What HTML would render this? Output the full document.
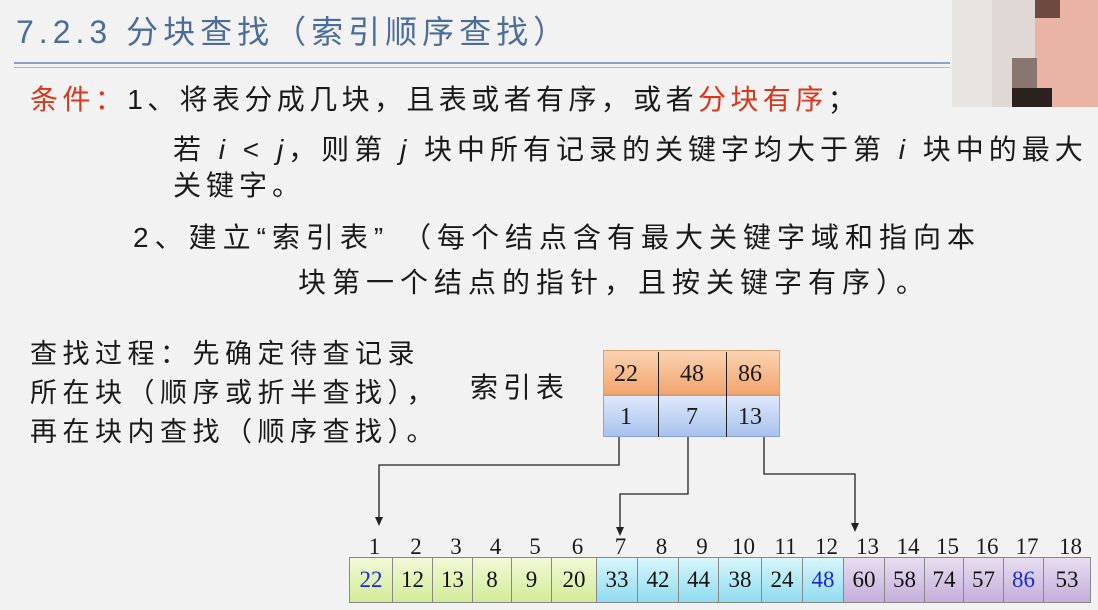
<!DOCTYPE html>
<html><head><meta charset="utf-8"><style>
body{margin:0;width:1098px;height:610px;background:#f2f2f2;position:relative;overflow:hidden;font-family:"Liberation Sans","Noto Sans CJK SC",sans-serif;color:#1a1a1a}
.t{position:absolute;white-space:nowrap;line-height:1}
.r{color:#d9361b}
.c{position:absolute;border:1px solid #888;box-sizing:border-box;font-family:"Liberation Serif",serif;font-size:23px;text-align:center;line-height:44px}
.n{position:absolute;font-family:"Liberation Serif",serif;font-size:23px;text-align:center;width:40px;line-height:1}
.px{position:absolute}
</style></head><body>
<div class="t" style="left:16px;top:16px;font-size:32px;letter-spacing:5px;color:#4d6d99">7.2.3 分块查找（索引顺序查找）</div>
<div class="px" style="left:14px;top:62px;width:936px;height:2px;background:#8aa4c8"></div>
<div class="px" style="left:14px;top:67px;width:936px;height:1px;background:#a9bcd8"></div>
<!-- pixelated face -->
<div class="px" style="left:952px;top:0;width:146px;height:107px;background:#e0d8d4"></div>
<div class="px" style="left:1035px;top:0;width:63px;height:107px;background:#e9b3a6"></div>
<div class="px" style="left:1012px;top:58px;width:25px;height:49px;background:#8a7670"></div>
<div class="px" style="left:1012px;top:88px;width:40px;height:19px;background:#2b2220"></div>
<div class="px" style="left:1035px;top:0;width:25px;height:18px;background:#6b4a40"></div>
<div class="px" style="left:952px;top:0;width:40px;height:107px;background:#e8e4e2"></div>

<div class="t" style="left:30px;top:86px;font-size:28px;letter-spacing:4.4px"><span class="r">条件</span><span class="r">：</span>1、将表分成几块，且表或者有序，或者<span class="r">分块有序</span>；</div>
<div class="t" style="left:173px;top:136px;font-size:28px;letter-spacing:5px">若 <i>i</i> &lt; <i>j</i>，则第 <i>j</i> 块中所有记录的关键字均大于第 <i>i</i> 块中的最大</div>
<div class="t" style="left:173px;top:172px;font-size:28px;letter-spacing:5px">关键字。</div>
<div class="t" style="left:133px;top:224px;font-size:28px;letter-spacing:6px">2、建立“索引表” （每个结点含有最大关键字域和指向本</div>
<div class="t" style="left:298px;top:269px;font-size:28px;letter-spacing:6px">块第一个结点的指针，且按关键字有序）。</div>
<div class="t" style="left:30px;top:341px;font-size:27px;letter-spacing:5.5px">查找过程：先确定待查记录</div>
<div class="t" style="left:30px;top:380px;font-size:27px;letter-spacing:5.5px">所在块（顺序或折半查找），</div>
<div class="t" style="left:30px;top:419px;font-size:27px;letter-spacing:5.5px">再在块内查找（顺序查找）。</div>
<div class="t" style="left:470px;top:374px;font-size:28px;letter-spacing:5px">索引表</div>

<div class="px" style="left:603px;top:350px;width:177px;height:45px;background:linear-gradient(#fbd3b3,#f2a56e);border:1px solid #e0a070;box-sizing:border-box"></div>
<div class="px" style="left:603px;top:395px;width:177px;height:42px;background:linear-gradient(#dfe8fb,#a8c2ee);border:1px solid #8aa6d8;box-sizing:border-box"></div>
<div class="px" style="left:658px;top:352px;width:1px;height:85px;background:#222"></div>
<div class="px" style="left:726px;top:352px;width:1px;height:85px;background:#222"></div>
<div class="n" style="left:606px;top:362px;font-size:24px">22</div>
<div class="n" style="left:672px;top:362px;font-size:24px">48</div>
<div class="n" style="left:730px;top:362px;font-size:24px">86</div>
<div class="n" style="left:606px;top:405px;font-size:24px">1</div>
<div class="n" style="left:672px;top:405px;font-size:24px">7</div>
<div class="n" style="left:730px;top:405px;font-size:24px">13</div>

<svg class="px" style="left:0;top:0" width="1098" height="610">
<g fill="none" stroke="#222" stroke-width="1.3">
<polyline points="619,437 619,465 379,465 379,518"/>
<polyline points="688,437 688,494 620,494 620,528"/>
<polyline points="764,437 764,474 855,474 855,524"/>
</g>
<g fill="#222">
<polygon points="375,517 383,517 379,526"/>
<polygon points="616,527 624,527 620,536"/>
<polygon points="851,523 859,523 855,532"/>
</g>
</svg>

<div id="arr"></div>
<script>
var b=[349,392,432,472,511,551,596,637,678,718,761,802,843,884,924,963,1003,1043,1090];
var v=[22,12,13,8,9,20,33,42,44,38,24,48,60,58,74,57,86,53];
var h='';
for(var i=0;i<18;i++){
 var bg=i<6?'linear-gradient(#f2fad8,#d2eb98)':(i<12?'linear-gradient(#d8f6fc,#8fdcf0)':'linear-gradient(#e8def0,#c4aedb)');
 var col=(i==0||i==11||i==16)?'#1a2bd0':'#111';
 h+='<div class="c" style="left:'+b[i]+'px;top:557px;width:'+(b[i+1]-b[i]+1)+'px;height:46px;background:'+bg+';color:'+col+'">'+v[i]+'</div>';
 var cx=(b[i]+b[i+1])/2;
 h+='<div class="n" style="left:'+(cx-20+4)+'px;top:535px">'+(i+1)+'</div>';
}
document.getElementById('arr').innerHTML=h;
</script>
</body></html>
